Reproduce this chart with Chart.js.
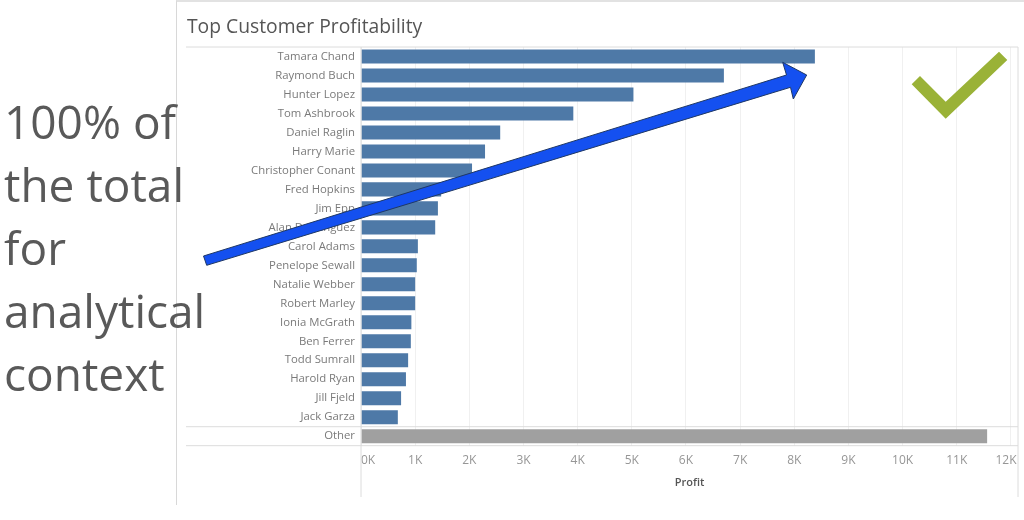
<!DOCTYPE html>
<html>
<head>
<meta charset="utf-8">
<title>Top Customer Profitability</title>
<script src="https://cdn.jsdelivr.net/npm/chart.js@4"></script>
<style>
  html, body { margin: 0; padding: 0; background: #fff; }
  #stage { position: relative; width: 1024px; height: 520px; overflow: hidden; }
  #panel { position: absolute; left: 176px; top: 0; width: 860px; height: 505px; border-left: 1.5px solid #d8d8d8; border-top: 2px solid #e2e2e2; box-sizing: border-box; }
  #revChart { position: absolute; left: 0; top: 0; }
  #title { position: absolute; left: 187px; top: 12px; font: 19.3px "Open Sans", sans-serif; color: #555; white-space: nowrap; }
  #context { position: absolute; left: 4px; top: 90px; font: 46px/63px "Open Sans", sans-serif; color: #595959; }
  #marks { position: absolute; left: 0; top: 0; }
</style>
</head>
<body>
<div id="stage">
  <div id="panel"></div>
  <canvas id="revChart" width="1024" height="520"></canvas>
  <div id="title">Top Customer Profitability</div>
  <div id="context">100% of<br>the total<br>for<br>analytical<br>context</div>
  <svg id="marks" width="1024" height="520">
    <polygon points="203.5,256 786.5,75 782.7,62.3 806.7,75 793.3,99 790.5,87.3 206.7,265.3" fill="#1450f0" stroke="#1f3864" stroke-width="1"/>
    <polygon points="920,76 911.7,84.3 945.7,118.7 1007.3,60 999,51.7 945.7,101.7" fill="#9ab237"/>
  </svg>
</div>
<script>
(function () {
  "use strict";

  var customers = ["Tamara Chand", "Raymond Buch", "Hunter Lopez", "Tom Ashbrook", "Daniel Raglin",
    "Harry Marie", "Christopher Conant", "Fred Hopkins", "Jim Epp", "Alan Dominguez", "Carol Adams",
    "Penelope Sewall", "Natalie Webber", "Robert Marley", "Ionia McGrath", "Ben Ferrer",
    "Todd Sumrall", "Harold Ryan", "Jill Fjeld", "Jack Garza", "Other"];
  var profit = [8380, 6700, 5030, 3920, 2570, 2290, 2050, 1480, 1420, 1370, 1050, 1030, 1000, 1000,
    930, 920, 870, 830, 740, 680, 11560];
  var xTicks = [0, 1000, 2000, 3000, 4000, 5000, 6000, 7000, 8000, 9000, 10000, 11000, 12000];

  var BLUE = "#4e79a7", GREY = "#a0a0a0", LINE = "#dcdcdc", FONT = '"Open Sans", sans-serif';

  // frame lines around the rows, and the end tick labels nudged inside the axis
  var framePlugin = {
    id: "frame",
    beforeDraw: function (chart) {
      var items = chart.scales.x.getLabelItems();
      items[0].options.translation[0] += 7;
      items[items.length - 1].options.translation[0] -= 5;
    },
    afterDraw: function (chart) {
      var c = chart.ctx, a = chart.chartArea, y = chart.scales.y;
      var sep = y.getPixelForValue(customers.length - 1) - (y.getPixelForValue(1) - y.getPixelForValue(0)) / 2;
      c.save();
      c.strokeStyle = LINE;
      c.lineWidth = 1;
      [a.top, sep, a.bottom].forEach(function (py) {
        c.beginPath(); c.moveTo(186, py); c.lineTo(a.right, py); c.stroke();
      });
      [a.left, a.right].forEach(function (px) {
        c.beginPath(); c.moveTo(px, a.top); c.lineTo(px, 497); c.stroke();
      });
      c.restore();
    }
  };

  new Chart(document.getElementById("revChart").getContext("2d"), {
    type: "bar",
    plugins: [framePlugin],
    data: {
      labels: customers,
      datasets: [{
        label: "Profit",
        data: profit,
        backgroundColor: customers.map(function (n) { return n === "Other" ? GREY : BLUE; }),
        barPercentage: 0.74,
        categoryPercentage: 1
      }]
    },
    options: {
      indexAxis: "y",
      responsive: false,
      animation: false,
      layout: { autoPadding: false, padding: { top: 47, right: 6, bottom: 30, left: 0 } },
      plugins: { legend: { display: false }, tooltip: { enabled: false } },
      scales: {
        x: {
          min: 0, max: 12130,
          afterFit: function (s) { s.height = 44.3; s.paddingLeft = 0; s.paddingRight = 0; },
          afterBuildTicks: function (s) { s.ticks = xTicks.map(function (v) { return { value: v }; }); },
          grid: { color: "#f0f0f0", drawTicks: false },
          border: { display: false },
          ticks: {
            padding: 8, color: "#969696", font: { family: FONT, size: 12 }, maxRotation: 0, autoSkip: false,
            callback: function (v) { return (v / 1000) + "K"; }
          },
          title: { display: true, text: "Profit", color: "#555", padding: { top: 0, bottom: 1 }, font: { family: FONT, size: 11, weight: "600" } }
        },
        y: {
          afterFit: function (s) { s.width = 361; },
          grid: { display: false, drawTicks: false },
          border: { display: false },
          ticks: { padding: 6, color: "#7a7a7a", font: { family: FONT, size: 11.35 }, autoSkip: false }
        }
      }
    }
  });
})();
</script>
</body>
</html>
